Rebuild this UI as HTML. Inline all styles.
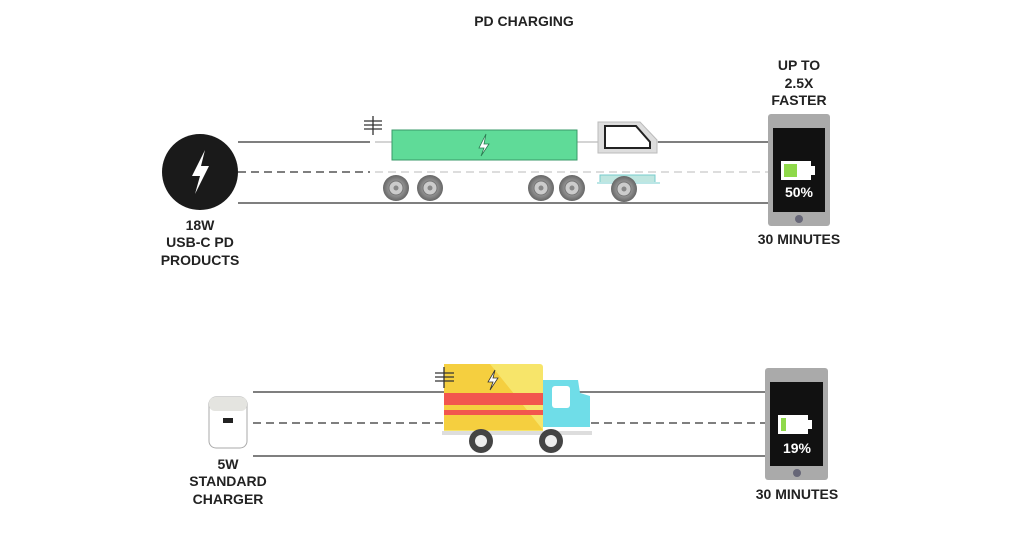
<!DOCTYPE html>
<html><head><style>body{margin:0;background:#fff}svg{display:block}text{font-family:"Liberation Sans Narrow","Liberation Sans",sans-serif;font-weight:bold;fill:#222;text-anchor:middle;font-size:14px}</style></head><body>
<svg width="1024" height="538" viewBox="0 0 1024 538">
<defs>
<radialGradient id="wh" cx="50%" cy="50%" r="50%"><stop offset="0" stop-color="#eee"/><stop offset="0.5" stop-color="#999"/><stop offset="1" stop-color="#666"/></radialGradient>
<g id="w"><circle r="13" fill="url(#wh)"/><circle r="7" fill="#ccc" stroke="#777"/><circle r="2.5" fill="#888"/></g>
</defs>
<text x="524" y="26" font-size="16">PD CHARGING</text>
<line x1="238" y1="142" x2="370" y2="142" stroke="#555" stroke-width="1.5"/>
<line x1="375" y1="142" x2="768" y2="142" stroke="#aaa" stroke-width="1"/>
<line x1="658" y1="142" x2="768" y2="142" stroke="#555" stroke-width="1.5"/>
<line x1="238" y1="172" x2="370" y2="172" stroke="#555" stroke-width="1.5" stroke-dasharray="8,5"/>
<line x1="375" y1="172" x2="768" y2="172" stroke="#bbb" stroke-width="1" stroke-dasharray="8,5"/>
<line x1="238" y1="203" x2="768" y2="203" stroke="#555" stroke-width="1.5"/>
<circle cx="200" cy="172" r="38" fill="#1a1a1a"/>
<path d="M205 150 L192 176 L200 176 L195 194 L209 166 L201 166 Z" fill="#fff"/>
<g stroke="#333" stroke-width="1.3"><line x1="373" y1="116" x2="373" y2="135"/><line x1="364" y1="121" x2="382" y2="121"/><line x1="364" y1="125" x2="382" y2="125"/><line x1="364" y1="129" x2="382" y2="129"/></g>
<rect x="392" y="130" width="185" height="30" fill="#5fdb98" stroke="#3a9a68"/>
<path d="M486 134 L479 148 L484 148 L481 156 L489 144 L484 144 Z" fill="#fff" stroke="#2a7a50" stroke-width="0.8"/>
<path d="M598 122 L640 122 L657 140 L657 153 L598 153 Z" fill="#ddd" stroke="#bbb"/>
<path d="M605 126 L636 126 L650 142 L650 148 L605 148 Z" fill="#fff" stroke="#222" stroke-width="2"/>
<path d="M600 182 L600 175 L655 175 L655 182" fill="#bfe6e0" stroke="#7cc" stroke-width="1"/>
<line x1="597" y1="183" x2="660" y2="183" stroke="#7cc"/>
<use href="#w" x="396" y="188"/><use href="#w" x="430" y="188"/><use href="#w" x="541" y="188"/><use href="#w" x="572" y="188"/><use href="#w" x="624" y="189"/>
<text x="200" y="230">18W</text><text x="200" y="247">USB-C PD</text><text x="200" y="265">PRODUCTS</text>
<text x="799" y="70">UP TO</text><text x="799" y="88">2.5X</text><text x="799" y="105">FASTER</text>
<rect x="768" y="114" width="62" height="112" rx="3" fill="#aaa"/>
<rect x="773" y="128" width="52" height="84" fill="#111"/>
<rect x="781" y="161" width="30" height="19" fill="#fff"/><rect x="811" y="166" width="4" height="9" fill="#fff"/>
<rect x="784" y="164" width="13" height="13" fill="#8fd94a"/>
<text x="799" y="197" style="fill:#fff" font-size="14">50%</text>
<circle cx="799" cy="219" r="4" fill="#667"/>
<text x="799" y="244">30 MINUTES</text>
<line x1="253" y1="392" x2="765" y2="392" stroke="#555" stroke-width="1.5"/>
<line x1="253" y1="423" x2="765" y2="423" stroke="#555" stroke-width="1.5" stroke-dasharray="8,5"/>
<line x1="253" y1="456" x2="765" y2="456" stroke="#555" stroke-width="1.5"/>
<rect x="209" y="397" width="38" height="51" rx="7" fill="#fff" stroke="#aaa"/>
<rect x="209" y="397" width="38" height="14" rx="6" fill="#e4e4e0"/>
<rect x="223" y="418" width="10" height="5" fill="#222"/>
<text x="228" y="469">5W</text><text x="228" y="486">STANDARD</text><text x="228" y="504">CHARGER</text>
<rect x="444" y="364" width="99" height="70" rx="3" fill="#f7e56a"/>
<path d="M444 364 L490 364 L543 430 L444 430 Z" fill="#f5cf3f"/>
<rect x="444" y="393" width="99" height="12" fill="#f2564e"/>
<rect x="444" y="410" width="99" height="5" fill="#f2564e"/>
<path d="M543 380 L578 380 L580 393 L590 396 L590 427 L543 427 Z" fill="#6fdde8"/>
<rect x="552" y="386" width="18" height="22" rx="3" fill="#fff"/>
<rect x="442" y="431" width="150" height="4" fill="#ddd"/>
<g stroke="#333" stroke-width="1.3"><line x1="444" y1="367" x2="444" y2="388"/><line x1="435" y1="373" x2="454" y2="373"/><line x1="435" y1="377" x2="454" y2="377"/><line x1="435" y1="381" x2="454" y2="381"/></g>
<path d="M495 370 L488 382 L493 382 L490 390 L498 378 L493 378 Z" fill="#fff" stroke="#333" stroke-width="0.8"/>
<circle cx="481" cy="441" r="12" fill="#444"/><circle cx="481" cy="441" r="6" fill="#eee"/>
<circle cx="551" cy="441" r="12" fill="#444"/><circle cx="551" cy="441" r="6" fill="#eee"/>
<rect x="765" y="368" width="63" height="112" rx="3" fill="#aaa"/>
<rect x="770" y="382" width="53" height="84" fill="#111"/>
<rect x="778" y="415" width="30" height="19" fill="#fff"/><rect x="808" y="420" width="4" height="9" fill="#fff"/>
<rect x="781" y="418" width="5" height="13" fill="#8fd94a"/>
<text x="797" y="453" style="fill:#fff" font-size="14">19%</text>
<circle cx="797" cy="473" r="4" fill="#667"/>
<text x="797" y="499">30 MINUTES</text>
</svg>
</body></html>
